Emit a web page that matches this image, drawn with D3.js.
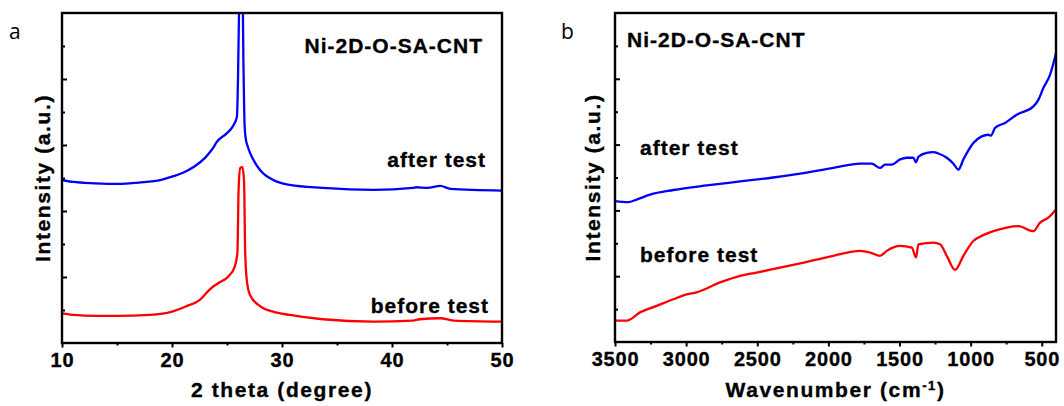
<!DOCTYPE html>
<html>
<head>
<meta charset="utf-8">
<script src="https://cdn.jsdelivr.net/npm/d3@7"></script>
<style>
  body { margin: 0; background: #fff; }
  .bold { font-weight: bold; stroke: #000; stroke-width: 0.35px; }
</style>
</head>
<body>
<svg id="fig" width="1064" height="406"></svg>
<script>

// ---- panel a : XRD (2 theta, intensity a.u.) ----
let xrdTheta = [10, 11, 13, 15, 17, 19, 20, 21, 22, 23, 23.6, 23.8, 24, 25, 25.5, 25.9, 26.0, 26.1, 26.35, 26.5, 26.6, 26.7, 26.9, 27.4, 28, 29.2, 30.7, 33.7, 38.3, 41.9, 42.2, 43.2, 44.4, 45.3, 50];
let xrdAfter = [4.94, 4.88, 4.84, 4.82, 4.86, 4.94, 5.04, 5.16, 5.34, 5.61, 5.85, 5.94, 6.06, 6.36, 6.55, 6.85, 8.0, 10.2, 12.5, 8.36, 6.6, 6.2, 5.94, 5.55, 5.24, 4.94, 4.79, 4.70, 4.64, 4.70, 4.72, 4.70, 4.76, 4.67, 4.62];

let xrdThetaB = [10, 11.1, 13, 15, 18, 20, 21.2, 22.5, 23.4, 23.6, 24.2, 25.1, 25.7, 25.95, 26.05, 26.2, 26.4, 26.55, 26.65, 26.8, 27.1, 28, 29.2, 30.7, 33.7, 38.3, 41.9, 42.5, 44.4, 45.6, 50];
let xrdBefore = [0.90, 0.85, 0.82, 0.82, 0.85, 0.95, 1.10, 1.30, 1.61, 1.67, 1.81, 2.01, 2.31, 2.75, 4.6, 5.3, 5.33, 4.9, 2.8, 1.9, 1.45, 1.12, 0.95, 0.85, 0.72, 0.65, 0.68, 0.72, 0.75, 0.68, 0.65];

let xrdTicks = [10, 20, 30, 40, 50];

// ---- panel b : FTIR (wavenumber cm-1) ----
let irWaveAfter = [3500, 3406, 3348, 3254, 3090, 2855, 2621, 2389, 2199, 1965, 1777, 1695, 1637, 1602, 1555, 1496, 1449, 1403, 1384, 1367, 1309, 1262, 1227, 1168, 1121, 1086, 1051, 981, 922, 875, 858, 828, 758, 676, 559, 524, 489, 442, 400];
let irAfter = [4.28, 4.25, 4.33, 4.48, 4.62, 4.76, 4.88, 5.0, 5.12, 5.29, 5.42, 5.42, 5.29, 5.39, 5.39, 5.55, 5.60, 5.60, 5.46, 5.63, 5.75, 5.77, 5.73, 5.60, 5.42, 5.24, 5.55, 6.05, 6.25, 6.30, 6.27, 6.51, 6.66, 6.91, 7.16, 7.36, 7.72, 8.12, 8.78];

let irWaveBefore = [3500, 3418, 3324, 3207, 3090, 2996, 2926, 2762, 2621, 2504, 2340, 2199, 1965, 1777, 1707, 1637, 1590, 1496, 1414, 1384, 1367, 1262, 1215, 1168, 1109, 1051, 981, 934, 840, 746, 664, 559, 512, 454, 400];
let irBefore = [0.65, 0.65, 0.90, 1.10, 1.30, 1.45, 1.51, 1.81, 2.01, 2.11, 2.26, 2.39, 2.62, 2.77, 2.72, 2.62, 2.77, 2.92, 2.87, 2.57, 2.97, 3.02, 2.97, 2.62, 2.19, 2.62, 3.07, 3.20, 3.37, 3.48, 3.52, 3.37, 3.63, 3.78, 4.03];

let irTicks = [3500, 3000, 2500, 2000, 1500, 1000, 500];

let sampleName = "Ni-2D-O-SA-CNT";
let mainFont = "'Liberation Sans', Arial, Helvetica, sans-serif";

let svg = d3.select("#fig");

function drawPanel(p) {
    let g = svg.append("g");
    let x = d3.scaleLinear().domain(p.xDomain).range(p.xRange);
    let y = d3.scaleLinear().domain([0, 10]).range([p.yRange[0], p.yRange[1]]);

    // clip so the tall peak is cut at the frame
    g.append("clipPath").attr("id", p.id + "clip")
        .append("rect")
        .attr("x", p.xRange[0]).attr("y", p.yRange[1])
        .attr("width", p.xRange[1] - p.xRange[0])
        .attr("height", p.yRange[0] - p.yRange[1]);

    let line = d3.line()
        .x(d => x(d[0]))
        .y(d => y(d[1]))
        .curve(d3.curveMonotoneX);

    p.series.forEach(function(s) {
        g.append("path")
            .datum(d3.zip(s.x, s.y).sort((a, b) => x(a[0]) - x(b[0])))
            .attr("clip-path", "url(#" + p.id + "clip)")
            .attr("fill", "none")
            .attr("stroke", s.color)
            .attr("stroke-width", 2.3)
            .attr("d", line);
    });

    // bottom axis: major + minor ticks pointing out
    let minor = [];
    for (let i = 0; i < p.ticks.length - 1; i++) minor.push((p.ticks[i] + p.ticks[i + 1]) / 2);
    g.append("g")
        .attr("transform", "translate(0," + p.yRange[0] + ")")
        .call(d3.axisBottom(x).tickValues(minor).tickSize(2.5).tickFormat(""))
        .call(a => a.select(".domain").remove())
        .selectAll("line").attr("stroke-width", 2);
    let xa = g.append("g")
        .attr("transform", "translate(0," + p.yRange[0] + ")")
        .call(d3.axisBottom(x).tickValues(p.ticks).tickSize(4.5).tickPadding(5).tickFormat(d3.format("d")))
        .call(a => a.select(".domain").remove());
    xa.selectAll("line").attr("stroke-width", 2);
    xa.selectAll("text")
        .attr("class", "bold")
        .style("font-family", mainFont)
        .style("font-size", "20px")
        .style("letter-spacing", "0.8px").attr("fill", "#000");

    // left axis: ticks inside, no labels
    let ya = g.append("g")
        .attr("transform", "translate(" + p.xRange[0] + ",0)")
        .call(d3.axisRight(y).tickValues([2, 4, 6, 8]).tickSize(5).tickFormat(""))
        .call(a => a.select(".domain").remove());
    ya.selectAll("line").attr("stroke-width", 2);
    let ym = g.append("g")
        .attr("transform", "translate(" + p.xRange[0] + ",0)")
        .call(d3.axisRight(y).tickValues([1, 3, 5, 7, 9]).tickSize(3).tickFormat(""))
        .call(a => a.select(".domain").remove());
    ym.selectAll("line").attr("stroke-width", 2);

    // frame
    g.append("rect")
        .attr("x", p.xRange[0]).attr("y", p.yRange[1])
        .attr("width", p.xRange[1] - p.xRange[0])
        .attr("height", p.yRange[0] - p.yRange[1])
        .attr("fill", "none").attr("stroke", "#000").attr("stroke-width", 2.4);

    // axis titles
    let xt = g.append("text")
        .attr("class", "bold")
        .attr("x", (p.xRange[0] + p.xRange[1]) / 2).attr("y", 397)
        .attr("text-anchor", "middle")
        .style("font-family", mainFont)
        .style("font-size", "21px")
        .style("letter-spacing", "1.6px")
        .text(p.xTitle);
    if (p.sup) {
        xt.append("tspan").attr("baseline-shift", "super").style("font-size", "13px").text(p.sup);
        xt.append("tspan").text(")");
    }
    g.append("text")
        .attr("class", "bold")
        .attr("transform", "translate(" + p.yTitleX + "," + (p.yRange[0] + p.yRange[1]) / 2 + ") rotate(-90)")
        .attr("text-anchor", "middle")
        .style("font-family", mainFont)
        .style("font-size", "21px")
        .style("letter-spacing", "1.6px")
        .text("Intensity (a.u.)");

    // panel letter
    g.append("text")
        .attr("x", p.letterX).attr("y", 39)
        .style("font-family", "'Open Sans', sans-serif")
        .style("font-size", "21px")
        .text(p.letter);

    // labels
    p.labels.forEach(function(l) {
        g.append("text")
            .attr("class", "bold")
            .attr("x", l.x).attr("y", l.y)
            .attr("text-anchor", l.anchor || "start")
            .style("font-family", mainFont)
            .style("font-size", "21px")
            .style("letter-spacing", "1px")
            .text(l.t);
    });
}

drawPanel({
    id: "a",
    xDomain: [10, 50], xRange: [62, 502], yRange: [343, 13],
    ticks: xrdTicks,
    series: [
        { x: xrdTheta, y: xrdAfter, color: "#0000ff" },
        { x: xrdThetaB, y: xrdBefore, color: "#ff0000" }
    ],
    xTitle: "2 theta (degree)",
    yTitleX: 50, letter: "a", letterX: 9,
    labels: [
        { t: sampleName, x: 483, y: 53, anchor: "end" },
        { t: "after test", x: 486, y: 167, anchor: "end" },
        { t: "before test", x: 489, y: 313, anchor: "end" }
    ]
});

drawPanel({
    id: "b",
    xDomain: [3500, 400], xRange: [615, 1056], yRange: [342, 13],
    ticks: irTicks,
    series: [
        { x: irWaveAfter, y: irAfter, color: "#0000ff" },
        { x: irWaveBefore, y: irBefore, color: "#ff0000" }
    ],
    xTitle: "Wavenumber (cm", sup: "-1",
    yTitleX: 600, letter: "b", letterX: 561,
    labels: [
        { t: sampleName, x: 627, y: 47 },
        { t: "after test", x: 640, y: 155 },
        { t: "before test", x: 640, y: 262 }
    ]
});

</script>
</body>
</html>
